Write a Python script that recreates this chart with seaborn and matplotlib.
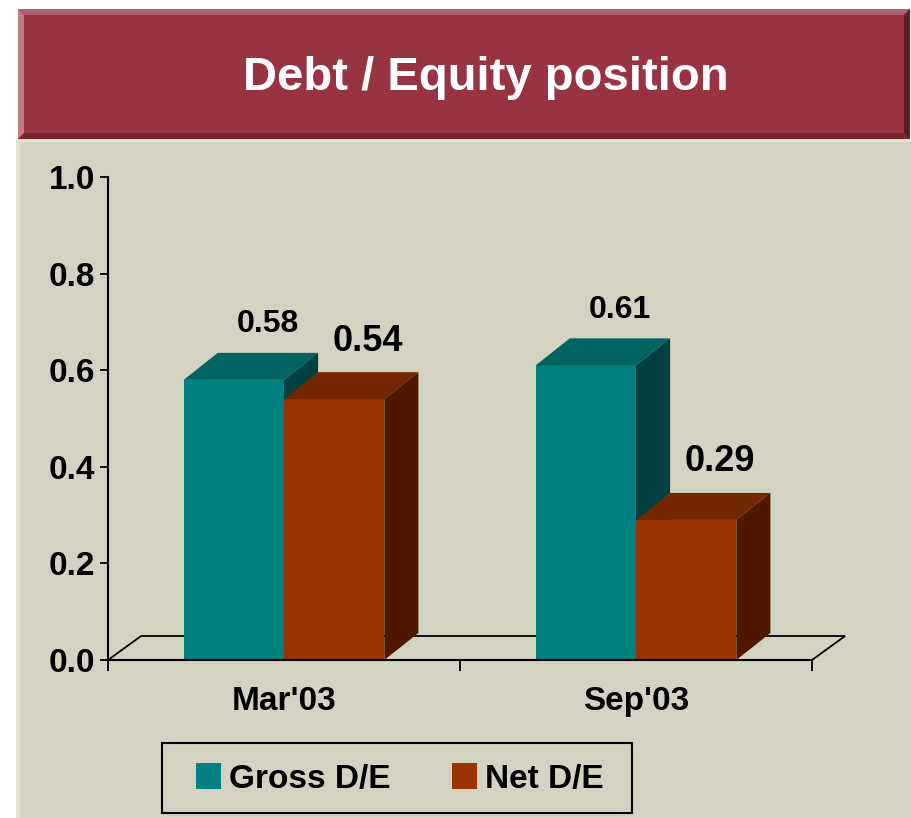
import numpy as np
import pandas as pd
import matplotlib
matplotlib.use('Agg')
import matplotlib.pyplot as plt
import seaborn as sns
from matplotlib.patches import Rectangle, Polygon

periods = ["Mar'03", "Sep'03"]
series = ['Gross D/E', 'Net D/E']
gross = [0.58, 0.61]
net = [0.54, 0.29]

front = {'Gross D/E': '#008080', 'Net D/E': '#993300'}
top_c = {'Gross D/E': '#006462', 'Net D/E': '#732600'}
side_c = {'Gross D/E': '#004040', 'Net D/E': '#4c1900'}

df = pd.DataFrame({
    'period': periods * 2,
    'series': [series[0]] * 2 + [series[1]] * 2,
    'value': gross + net,
})

sns.set_theme(style='white')
plt.rcParams['font.family'] = ['Liberation Sans', 'DejaVu Sans']
plt.rcParams['font.weight'] = 'bold'
plt.rcParams['text.color'] = 'black'
plt.rcParams['xtick.color'] = 'black'
plt.rcParams['ytick.color'] = 'black'
plt.rcParams['axes.labelcolor'] = 'black'

W, H = 912, 818
fig = plt.figure(figsize=(W / 100, H / 100), dpi=100)
fig.patch.set_facecolor('white')


def fx(x):
    return x / W


def fy(y):
    return 1 - y / H


# beige panel
fig.patches.append(Rectangle((fx(16), 0), fx(W - 16), fy(139), transform=fig.transFigure,
                             facecolor='#d4d2c1', edgecolor='none', zorder=-3))
fig.patches.append(Rectangle((fx(16), 0), fx(4), fy(139), transform=fig.transFigure,
                             facecolor='#e4e2d6', edgecolor='none', zorder=-2))
fig.patches.append(Rectangle((fx(16), fy(142)), fx(W - 16), 3 / H, transform=fig.transFigure,
                             facecolor='#e4e2d6', edgecolor='none', zorder=-2))

# title banner with bevel
bx0, bx1, by0, by1, b = 18, 910, 9, 139, 6
fig.patches.append(Rectangle((fx(bx0), fy(by1)), fx(bx1 - bx0), (by1 - by0) / H,
                             transform=fig.transFigure, facecolor='#983341', edgecolor='none',
                             zorder=-2))
bevels = [
    ([(bx0, by0), (bx1, by0), (bx1 - b, by0 + b), (bx0 + b, by0 + b)], '#b0616b'),
    ([(bx0, by0), (bx0 + b, by0 + b), (bx0 + b, by1 - b), (bx0, by1)], '#c27a83'),
    ([(bx0, by1), (bx0 + b, by1 - b), (bx1 - b, by1 - b), (bx1, by1)], '#782530'),
    ([(bx1, by0), (bx1, by1), (bx1 - b, by1 - b), (bx1 - b, by0 + b)], '#5e1c25'),
]
for pts, c in bevels:
    fig.patches.append(Polygon([(fx(x), fy(y)) for x, y in pts], closed=True,
                               transform=fig.transFigure, facecolor=c, edgecolor='none',
                               zorder=-1))
fig.text(fx(486), fy(78), 'Debt / Equity position', color='white', fontsize=34,
         fontweight='bold', ha='center', va='center')

# legend frame
fig.patches.append(Rectangle((fx(162), fy(813)), fx(632 - 162), (813 - 743) / H,
                             transform=fig.transFigure, facecolor='none', edgecolor='black',
                             lw=1.5, zorder=-1))

# axes: x from px 108 to 812, y from 660 to 177
ax = fig.add_axes([fx(108), fy(660), fx(812 - 108), (660 - 177) / H])
ax.set_zorder(1)
ax.set_facecolor('none')

sns.barplot(data=df, x='period', y='value', hue='series', palette=front,
            width=0.57, gap=0, saturation=1, ax=ax, linewidth=0)

ax.set_xlim(-0.5, 1.5)
ax.set_ylim(0, 1.0)

dx = 34 / 351
dy = 27 / 483
fdx = 33 / 351
fdy = 24 / 483

# floor
ax.add_patch(Polygon([(-0.5, 0), (1.5, 0), (1.5 + fdx, fdy), (-0.5 + fdx, fdy)], closed=True,
                     facecolor='none', edgecolor='black', lw=1.3, clip_on=False, zorder=1))

# 3d faces of bars
bars = [p for p in ax.patches if isinstance(p, Rectangle) and p.get_width() > 0]
for i, p in enumerate(bars[:4]):
    s = series[i // 2]
    x0, w, h = p.get_x(), p.get_width(), p.get_height()
    z = 2 if s == series[0] else 3
    p.set_zorder(z)
    ax.add_patch(Polygon([(x0, h), (x0 + w, h), (x0 + w + dx, h + dy), (x0 + dx, h + dy)],
                         closed=True, facecolor=top_c[s], edgecolor='none', zorder=z, clip_on=False))
    ax.add_patch(Polygon([(x0 + w, 0), (x0 + w + dx, dy), (x0 + w + dx, h + dy), (x0 + w, h)],
                         closed=True, facecolor=side_c[s], edgecolor='none', zorder=z, clip_on=False))
    fs = 23 if s == series[0] else 26
    ax.text(x0 + w / 2 + dx, h + dy + 0.028, f'{p.get_height():.2f}', ha='center', va='bottom',
            fontsize=fs, fontweight='bold', color='black', zorder=5)

for side in ['top', 'right']:
    ax.spines[side].set_visible(False)
for side in ['left', 'bottom']:
    ax.spines[side].set_color('black')
    ax.spines[side].set_linewidth(1.5)
    ax.spines[side].set_zorder(4)

ax.set_yticks(np.arange(0, 1.01, 0.2))
ax.set_yticklabels([f'{v:.1f}' for v in np.arange(0, 1.01, 0.2)])
ax.tick_params(axis='y', direction='out', length=6, width=1.3, color='black',
               labelcolor='black', labelsize=24, pad=3, left=True)
ax.set_xticks([0, 1])
ax.set_xticklabels(periods)
ax.tick_params(axis='x', which='major', length=0, labelsize=24, pad=19, labelcolor='black')
ax.set_xticks([-0.5, 0.5, 1.5], minor=True)
ax.tick_params(axis='x', which='minor', direction='out', length=8, width=1.3,
               color='black', bottom=True)
for lbl in ax.get_xticklabels() + ax.get_yticklabels():
    lbl.set_fontweight('bold')
ax.set_xlabel('')
ax.set_ylabel('')

sns.move_legend(ax, loc='center', bbox_to_anchor=(fx(400), fy(779)),
                bbox_transform=fig.transFigure, ncol=2, title=None,
                frameon=False, fontsize=24, handlelength=0.75, handleheight=0.78,
                handletextpad=0.24, columnspacing=1.85, borderpad=0, borderaxespad=0,
                labelcolor='black')
leg = ax.get_legend()
for t in leg.get_texts():
    t.set_fontweight('bold')

fig.savefig('out.png', dpi=100)
